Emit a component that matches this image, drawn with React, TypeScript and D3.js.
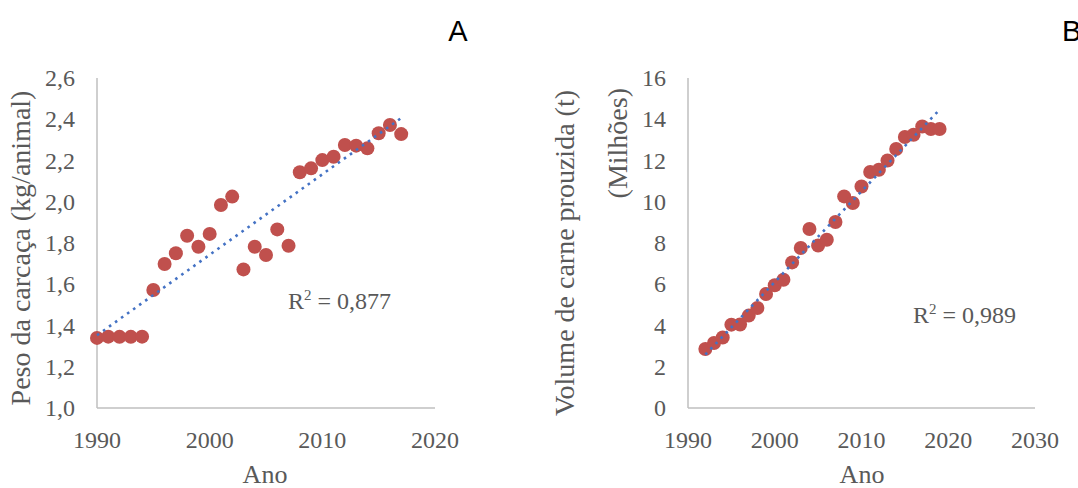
import React from "react";
import * as d3 from "d3";

const yearsA = [1990,1991,1992,1993,1994,1995,1996,1997,1998,1999,2000,2001,2002,2003,2004,2005,2006,2007,2008,2009,2010,2011,2012,2013,2014,2015,2016,2017];
const pesoA = [1.34,1.346,1.345,1.345,1.346,1.572,1.698,1.75,1.835,1.782,1.844,1.984,2.025,1.672,1.782,1.742,1.866,1.787,2.143,2.162,2.202,2.218,2.275,2.272,2.259,2.332,2.372,2.328];
const yearsB = [1992,1993,1994,1995,1996,1997,1998,1999,2000,2001,2002,2003,2004,2005,2006,2007,2008,2009,2010,2011,2012,2013,2014,2015,2016,2017,2018,2019];
const volumeB = [2.86,3.15,3.42,4.04,4.05,4.48,4.85,5.53,5.95,6.22,7.06,7.76,8.68,7.88,8.16,9.02,10.26,9.94,10.74,11.44,11.55,12.0,12.56,13.14,13.25,13.65,13.53,13.53];
const xTicksA = [1990, 2000, 2010, 2020];
const yTicksA = [1.0, 1.2, 1.4, 1.6, 1.8, 2.0, 2.2, 2.4, 2.6];
const xTicksB = [1990, 2000, 2010, 2020, 2030];
const yTicksB = [0, 2, 4, 6, 8, 10, 12, 14, 16];
const r2A = "0,877";
const r2B = "0,989";

const SERIF = "'Liberation Serif', 'Times New Roman', serif";
const TEXT = "#595959";
const AXIS = "#BFBFBF";
const MARK = "#C0504D";
const TREND = "#4472C4";

function regress(xs: number[], ys: number[]) {
  const mx = d3.mean(xs)!;
  const my = d3.mean(ys)!;
  let num = 0, den = 0;
  xs.forEach((x, i) => { num += (x - mx) * (ys[i] - my); den += (x - mx) ** 2; });
  const b = num / den;
  return (x: number) => my + b * (x - mx);
}

type PanelProps = {
  xs: number[]; ys: number[]; xDomain: [number, number]; yDomain: [number, number];
  xRange: [number, number]; yRange: [number, number];
  xTicks: number[]; yTicks: number[]; yFmt: (v: number) => string;
  r2: string; r2x: number; r2y: number;
};

function Panel(p: PanelProps) {
  const x = d3.scaleLinear().domain(p.xDomain).range(p.xRange);
  const y = d3.scaleLinear().domain(p.yDomain).range(p.yRange);
  const f = regress(p.xs, p.ys);
  const x0 = d3.min(p.xs)!, x1 = d3.max(p.xs)!;
  const line = d3.line<number>().x(d => x(d)).y(d => y(f(d)));
  return (
    <g>
      <line x1={p.xRange[0]} x2={p.xRange[0]} y1={p.yRange[0]} y2={p.yRange[1]} stroke={AXIS} strokeWidth={1.5} />
      <line x1={p.xRange[0]} x2={p.xRange[1]} y1={p.yRange[0]} y2={p.yRange[0]} stroke={AXIS} strokeWidth={1.5} />
      {p.yTicks.map(t => (
        <text key={"y" + t} x={p.xRange[0] - 22} y={y(t) + 8} textAnchor="end" fontFamily={SERIF} fontSize={24} fill={TEXT}>{p.yFmt(t)}</text>
      ))}
      {p.xTicks.map(t => (
        <text key={"x" + t} x={x(t)} y={448} textAnchor="middle" fontFamily={SERIF} fontSize={24} fill={TEXT}>{String(t)}</text>
      ))}
      {p.xs.map((xv, i) => (
        <circle key={"c" + i} cx={x(xv)} cy={y(p.ys[i])} r={7} fill={MARK} />
      ))}
      <path d={line([x0, x1]) || ""} fill="none" stroke={TREND} strokeWidth={2.6} strokeDasharray="2.6 4.8" />
      <text x={p.r2x} y={p.r2y} fontFamily={SERIF} fontSize={24} fill={TEXT}>
        R<tspan dy={-9} fontSize={15}>2</tspan><tspan dy={9}> = {p.r2}</tspan>
      </text>
    </g>
  );
}

export default function App() {
  return (
    <svg width={1078} height={488} style={{ position: "absolute", left: 0, top: 0, background: "#fff" }}>
      <rect width={1078} height={488} fill="#fff" />
      <Panel xs={yearsA} ys={pesoA} xDomain={[1990, 2020]} yDomain={[1.0, 2.6]} xRange={[97, 435]} yRange={[408, 78]}
        xTicks={xTicksA} yTicks={yTicksA} yFmt={v => v.toFixed(1).replace(".", ",")} r2={r2A} r2x={288} r2y={309} />
      <Panel xs={yearsB} ys={volumeB} xDomain={[1990, 2030]} yDomain={[0, 16]} xRange={[688, 1035]} yRange={[408, 78]}
        xTicks={xTicksB} yTicks={yTicksB} yFmt={v => String(v)} r2={r2B} r2x={913} r2y={323} />
      <text transform="translate(30,248) rotate(-90)" textAnchor="middle" fontFamily={SERIF} fontSize={28} fill={TEXT}>Peso da carcaça (kg/animal)</text>
      <text transform="translate(574,253) rotate(-90)" textAnchor="middle" fontFamily={SERIF} fontSize={28} fill={TEXT}>Volume de carne prouzida (t)</text>
      <text transform="translate(627,88) rotate(-90)" textAnchor="end" fontFamily={SERIF} fontSize={28} fill={TEXT}>(Milhões)</text>
      <text x={265} y={483} textAnchor="middle" fontFamily={SERIF} fontSize={26} fill={TEXT}>Ano</text>
      <text x={862} y={483} textAnchor="middle" fontFamily={SERIF} fontSize={26} fill={TEXT}>Ano</text>
      <text x={458} y={41} textAnchor="middle" fontFamily="'Liberation Sans', Arial, sans-serif" fontSize={29} fill="#000">A</text>
      <text x={1062} y={41} fontFamily="'Liberation Sans', Arial, sans-serif" fontSize={29} fill="#000">B</text>
    </svg>
  );
}
